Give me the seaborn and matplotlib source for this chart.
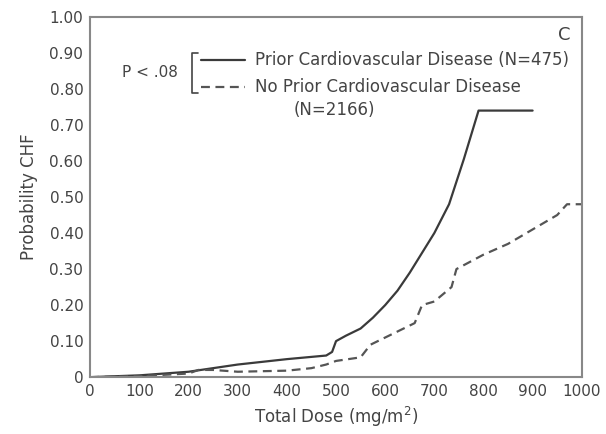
import matplotlib
matplotlib.use("Agg")
import matplotlib.pyplot as plt
import seaborn as sns
import pandas as pd
from matplotlib.lines import Line2D

# Data
dose_prior = [0, 100, 200, 300, 400, 480, 492, 500, 520, 550, 575, 600, 625, 650, 675, 700, 715, 730, 760, 790, 900]
prob_prior = [0.0, 0.005, 0.015, 0.035, 0.05, 0.06, 0.07, 0.10, 0.115, 0.135, 0.165, 0.20, 0.24, 0.29, 0.345, 0.40, 0.44, 0.48, 0.605, 0.74, 0.74]

dose_noprior = [0, 100, 200, 220, 250, 300, 400, 450, 480, 500, 550, 570, 600, 660, 675, 700, 735, 745, 800, 850, 900, 950, 970, 1000]
prob_noprior = [0.0, 0.003, 0.01, 0.02, 0.02, 0.015, 0.018, 0.025, 0.035, 0.045, 0.055, 0.09, 0.11, 0.15, 0.20, 0.21, 0.25, 0.30, 0.34, 0.37, 0.41, 0.45, 0.48, 0.48]

y_ticks = [0, 0.1, 0.2, 0.3, 0.4, 0.5, 0.6, 0.7, 0.8, 0.9, 1.0]
y_labels = ["0", "0.10", "0.20", "0.30", "0.40", "0.50", "0.60", "0.70", "0.80", "0.90", "1.00"]
x_ticks = [0, 100, 200, 300, 400, 500, 600, 700, 800, 900, 1000]

df = pd.concat([
    pd.DataFrame({"dose": dose_prior, "prob": prob_prior, "group": "prior"}),
    pd.DataFrame({"dose": dose_noprior, "prob": prob_noprior, "group": "noprior"}),
])

sns.set_theme(style="white")
plt.rcParams["font.family"] = ["DejaVu Sans"]

fig = plt.figure(figsize=(6.06, 4.34), dpi=100)
ax = fig.add_axes([0.149, 0.131, 0.811, 0.830])

line_col = "#3a3a3a"
txt_col = "#444444"

sns.lineplot(data=df, x="dose", y="prob", hue="group", style="group",
             palette={"prior": line_col, "noprior": "#555555"},
             dashes={"prior": (None, None), "noprior": (4, 2.5)},
             linewidth=1.6, legend=False, sort=False, estimator=None, ax=ax)

ax.set_xlim(0, 1000)
ax.set_ylim(0, 1.0)
ax.set_xticks(x_ticks)
ax.set_xticklabels([str(t) for t in x_ticks], fontsize=11, color=txt_col)
ax.set_yticks(y_ticks)
ax.set_yticklabels(y_labels, fontsize=11, color=txt_col)
ax.tick_params(direction="in", length=4, width=1, color="#888888", pad=5)
for s in ax.spines.values():
    s.set_color("#888888")
    s.set_linewidth(1.5)

ax.set_xlabel("Total Dose (mg/m$^2$)", fontsize=12, color=txt_col, labelpad=4)
ax.set_ylabel("Probability CHF", fontsize=12, color=txt_col, labelpad=8)

# Panel letter and legend annotation
ax.text(0.965, 0.95, "C", transform=ax.transAxes, fontsize=13, color=txt_col,
        ha="center", va="center")
ax.text(0.122, 0.845, "P < .08", transform=ax.transAxes, fontsize=11, color=txt_col,
        ha="center", va="center")
# bracket
bx, by0, by1 = 0.207, 0.79, 0.90
ax.add_line(Line2D([bx + 0.012, bx, bx, bx + 0.012], [by1, by1, by0, by0],
                   transform=ax.transAxes, color=txt_col, lw=1.2))
ax.add_line(Line2D([0.226, 0.315], [0.881, 0.881], transform=ax.transAxes,
                   color=line_col, lw=1.6))
ax.add_line(Line2D([0.226, 0.315], [0.806, 0.806], transform=ax.transAxes,
                   color="#555555", lw=1.6, dashes=(4, 2.5)))
ax.text(0.335, 0.881, "Prior Cardiovascular Disease (N=475)", transform=ax.transAxes,
        fontsize=12, color=txt_col, ha="left", va="center")
ax.text(0.335, 0.806, "No Prior Cardiovascular Disease", transform=ax.transAxes,
        fontsize=12, color=txt_col, ha="left", va="center")
ax.text(0.496, 0.742, "(N=2166)", transform=ax.transAxes,
        fontsize=12, color=txt_col, ha="center", va="center")

fig.savefig("out.png", dpi=100)
